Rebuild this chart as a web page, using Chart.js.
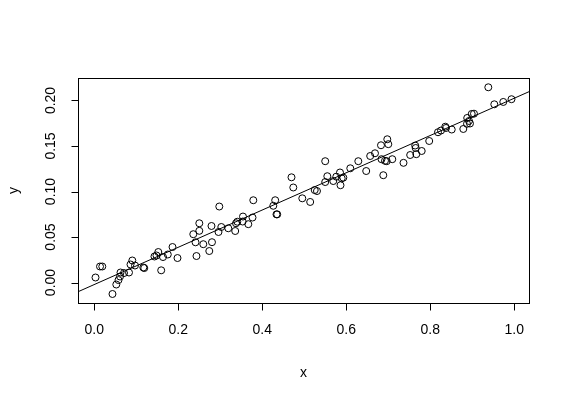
<!DOCTYPE html>
<html><head><meta charset="utf-8">
<script src="https://cdn.jsdelivr.net/npm/chart.js@4"></script>
<style>html,body{margin:0;padding:0;background:#fff;overflow:hidden}#wrap{width:570px;height:402px}</style>
</head><body><div id="wrap"><canvas id="c" width="570" height="402"></canvas></div>
<script>
const xValues = [0.0029,0.0136,0.0190,0.0433,0.0524,0.0576,0.0612,0.0624,0.0707,0.0826,
0.0862,0.0905,0.0969,0.1167,0.1190,0.1433,0.1481,0.1524,0.1593,0.1636,
0.1750,0.1862,0.1981,0.2357,0.2410,0.2433,0.2500,0.2500,0.2595,0.2738,
0.2790,0.2802,0.2957,0.2976,0.3024,0.3190,0.3355,0.3374,0.3405,0.3540,
0.3533,0.3667,0.3767,0.3786,0.4262,0.4307,0.4338,0.4355,0.4695,0.4738,
0.4952,0.5140,0.5248,0.5302,0.5498,0.5498,0.5548,0.5690,0.5762,0.5850,
0.5862,0.5890,0.5929,0.6095,0.6286,0.6474,0.6569,0.6683,0.6826,0.6838,
0.6881,0.6921,0.6962,0.6976,0.7000,0.7095,0.7362,0.7521,0.7640,0.7652,
0.7667,0.7795,0.7974,0.8183,0.8255,0.8357,0.8374,0.8510,0.8786,0.8879,
0.8986,0.9040,0.8874,0.8921,0.8945,0.9381,0.9524,0.9738,0.9933];
const yValues = [0.0055,0.0176,0.0176,-0.0126,-0.0022,0.0027,0.0066,0.0110,0.0104,0.0110,
0.0198,0.0242,0.0187,0.0165,0.0159,0.0286,0.0297,0.0335,0.0134,0.0280,
0.0308,0.0390,0.0269,0.0531,0.0442,0.0291,0.0651,0.0568,0.0421,0.0346,
0.0621,0.0443,0.0555,0.0835,0.0610,0.0596,0.0566,0.0651,0.0668,0.0725,
0.0670,0.0641,0.0714,0.0904,0.0843,0.0904,0.0749,0.0749,0.1156,0.1044,
0.0925,0.0885,0.1016,0.1005,0.1333,0.1104,0.1168,0.1115,0.1163,0.1209,
0.1069,0.1145,0.1152,0.1255,0.1333,0.1225,0.1390,0.1420,0.1508,0.1355,
0.1179,0.1337,0.1333,0.1574,0.1520,0.1355,0.1315,0.1401,0.1505,0.1478,
0.1410,0.1445,0.1555,0.1651,0.1670,0.1712,0.1698,0.1681,0.1687,0.1808,
0.1852,0.1855,0.1744,0.1775,0.1747,0.2145,0.1958,0.1984,0.2014];
const xTicks = [0, 0.2, 0.4, 0.6, 0.8, 1.0];
const xTickLabels = ['0.0','0.2','0.4','0.6','0.8','1.0'];
const yTicks = [0, 0.05, 0.10, 0.15, 0.20];
const yTickLabels = ['0.00','0.05','0.10','0.15','0.20'];
const xRange = [-0.0388, 1.035];
const yRange = [-0.0225, 0.2247];
const fitIntercept = -0.0022;
const fitSlope = 0.2047;
const xTitle = 'x';
const yTitle = 'y';

const points = xValues.map((x, i) => ({x: x, y: yValues[i]}));
const fitLine = xRange.map(x => ({x: x, y: fitIntercept + fitSlope * x}));

const FONT = '14px "Liberation Sans", Arial, sans-serif';
const axesPlugin = {
  id: 'rAxes',
  afterDraw(chart) {
    const ctx = chart.ctx, a = chart.chartArea;
    const xs = chart.scales.x, ys = chart.scales.y;
    ctx.save();
    ctx.strokeStyle = '#000';
    ctx.lineWidth = 1;
    const L = Math.round(a.left) + 0.5, R = Math.round(a.right) + 0.5;
    const T = Math.round(a.top) + 0.5, B = Math.round(a.bottom) + 0.5;
    ctx.strokeRect(L, T, R - L, B - T);
    ctx.beginPath();
    xTicks.forEach(v => { const p = Math.round(xs.getPixelForValue(v)) + 0.5; ctx.moveTo(p, B); ctx.lineTo(p, B + 7); });
    yTicks.forEach(v => { const p = Math.round(ys.getPixelForValue(v)) + 0.5; ctx.moveTo(L, p); ctx.lineTo(L - 7, p); });
    ctx.stroke();
    ctx.fillStyle = '#000';
    ctx.font = FONT;
    ctx.textAlign = 'center';
    ctx.textBaseline = 'middle';
    xTicks.forEach((v, i) => ctx.fillText(xTickLabels[i], xs.getPixelForValue(v), a.bottom + 27));
    yTicks.forEach((v, i) => {
      ctx.save();
      ctx.translate(a.left - 27, ys.getPixelForValue(v));
      ctx.rotate(-Math.PI / 2);
      ctx.fillText(yTickLabels[i], 0, 0);
      ctx.restore();
    });
    ctx.fillText(xTitle, (a.left + a.right) / 2, a.bottom + 70);
    ctx.save();
    ctx.translate(a.left - 64, (a.top + a.bottom) / 2);
    ctx.rotate(-Math.PI / 2);
    ctx.fillText(yTitle, 0, 0);
    ctx.restore();
    ctx.restore();
  }
};

new Chart(document.getElementById('c'), {
  type: 'scatter',
  data: {
    datasets: [
      { data: points, pointStyle: 'circle', pointRadius: 3.5, borderWidth: 1,
        borderColor: '#000', backgroundColor: 'rgba(0,0,0,0)', order: 1 },
      { type: 'line', data: fitLine, borderColor: '#000', borderWidth: 1,
        pointRadius: 0, fill: false, tension: 0, order: 0 }
    ]
  },
  options: {
    responsive: false,
    animation: false,
    events: [],
    layout: { padding: { left: 78, top: 78, right: 41, bottom: 99 } },
    plugins: { legend: { display: false }, tooltip: { enabled: false } },
    scales: {
      x: { type: 'linear', display: false, min: xRange[0], max: xRange[1] },
      y: { type: 'linear', display: false, min: yRange[0], max: yRange[1] }
    }
  },
  plugins: [axesPlugin]
});
</script></body></html>
